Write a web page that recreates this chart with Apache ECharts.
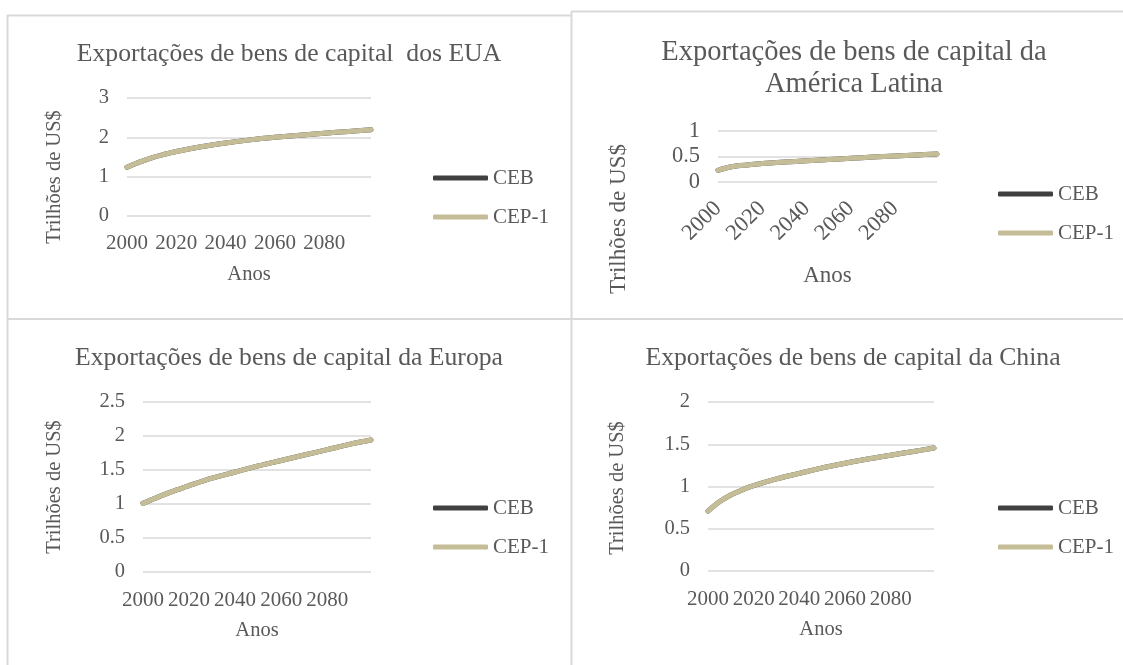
<!DOCTYPE html>
<html>
<head>
<meta charset="utf-8">
<script src="https://cdn.jsdelivr.net/npm/echarts@6/dist/echarts.min.js"></script>
<style>
html,body{margin:0;padding:0;background:#fff;}
#chart{width:1123px;height:665px;}
</style>
</head>
<body>
<div id="chart"></div>
<script>
// ---- data ----
const years = [2000, 2005, 2010, 2015, 2020, 2030, 2040, 2050, 2060, 2070, 2080, 2090, 2099];
const xTickLabels = ['2000', '2020', '2040', '2060', '2080'];
const seriesNames = ['CEB', 'CEP-1'];
const titles = [
  'Exportações de bens de capital  dos EUA',
  'Exportações de bens de capital da\nAmérica Latina',
  'Exportações de bens de capital da Europa',
  'Exportações de bens de capital da China'
];
const yTitle = 'Trilhões de US$';
const xTitle = 'Anos';

const euaCEB   = [1.24, 1.37, 1.48, 1.565, 1.64, 1.76, 1.855, 1.935, 2.0, 2.055, 2.105, 2.15, 2.19];
const euaCEP1  = [1.24, 1.37, 1.48, 1.565, 1.64, 1.76, 1.855, 1.935, 2.0, 2.055, 2.105, 2.15, 2.19];
const latCEB   = [0.23, 0.29, 0.322, 0.345, 0.363, 0.39, 0.415, 0.44, 0.465, 0.488, 0.51, 0.53, 0.548];
const latCEP1  = [0.23, 0.29, 0.322, 0.345, 0.363, 0.39, 0.415, 0.44, 0.465, 0.488, 0.51, 0.53, 0.548];
const eurCEB   = [1.01, 1.08, 1.15, 1.21, 1.27, 1.38, 1.47, 1.56, 1.64, 1.72, 1.80, 1.88, 1.94];
const eurCEP1  = [1.01, 1.08, 1.15, 1.21, 1.27, 1.38, 1.47, 1.56, 1.64, 1.72, 1.80, 1.88, 1.94];
const chnCEB   = [0.71, 0.82, 0.90, 0.96, 1.01, 1.09, 1.155, 1.22, 1.275, 1.325, 1.37, 1.415, 1.455];
const chnCEP1  = [0.71, 0.82, 0.90, 0.96, 1.01, 1.09, 1.155, 1.22, 1.275, 1.325, 1.37, 1.415, 1.455];

const yMax = [3, 1, 2.5, 2];
const yStep = [1, 0.5, 0.5, 0.5];

// ---- layout / style ----
const FONT = '"Liberation Serif", "Times New Roman", serif';
const TXT = '#595959';
const GRID = '#d9d9d9';
const C_CEB = '#404040';
const C_CEP = '#C4BD97';

const grids = [
  {left: 127, top: 98, width: 244, height: 118},
  {left: 718, top: 131, width: 219, height: 51},
  {left: 143, top: 402, width: 228, height: 170},
  {left: 708, top: 402, width: 226, height: 169}
];
const titlePos = [
  {x: 289, y: 54, size: 25.7},
  {x: 854, y: 53, size: 28.5},
  {x: 289, y: 358, size: 25.7},
  {x: 853, y: 358, size: 25.7}
];
const axisFont = [20.5, 23, 20.5, 20.5];
const tickFont = [21, 22.5, 21, 21];
const yTickFont = [20.5, 22.5, 20.5, 20.5];
const yTitlePos = [{x: 55, y: 177}, {x: 619, y: 219}, {x: 55, y: 487}, {x: 618, y: 488}];
const legendPos = [{left: 428, top: 162}, {left: 993, top: 178}, {left: 428, top: 492}, {left: 993, top: 492}];
const nameGaps = [48, 82, 48, 48];
const labelMargin = [17, 23, 18, 18];

const pairs = v => years.map((y, i) => [y, v[i]]);
const dataSets = [[euaCEB, euaCEP1], [latCEB, latCEP1], [eurCEB, eurCEP1], [chnCEB, chnCEP1]];

const xAxes = [], yAxes = [], series = [], legends = [], graphics = [];
for (let k = 0; k < 4; k++) {
  xAxes.push({
    type: 'value', gridIndex: k, min: 2000, max: 2099, interval: 20,
    axisLine: {show: false}, axisTick: {show: false}, splitLine: {show: false},
    axisLabel: {
      color: TXT, fontFamily: FONT, fontSize: tickFont[k], showMaxLabel: false,
      margin: labelMargin[k], rotate: k === 1 ? 45 : 0,
      formatter: v => xTickLabels.indexOf(String(v)) >= 0 ? String(v) : ''
    },
    name: xTitle, nameLocation: 'middle', nameGap: nameGaps[k],
    nameTextStyle: {color: TXT, fontFamily: FONT, fontSize: axisFont[k]}
  });
  yAxes.push({
    type: 'value', gridIndex: k, min: 0, max: yMax[k], interval: yStep[k],
    axisLine: {show: false}, axisTick: {show: false},
    splitLine: {show: true, lineStyle: {color: GRID, width: 1.5}},
    axisLabel: {color: TXT, fontFamily: FONT, fontSize: yTickFont[k], margin: 18}
  });
  const cols = [C_CEB, C_CEP];
  for (let s = 0; s < 2; s++) {
    series.push({
      type: 'line', name: seriesNames[s], xAxisIndex: k, yAxisIndex: k,
      data: pairs(dataSets[k][s]), smooth: 0.35, showSymbol: false, symbol: 'none',
      color: cols[s],
      lineStyle: {color: cols[s], width: 5, cap: 'round', join: 'round'},
      z: 2 + s
    });
  }
  legends.push({
    data: seriesNames, orient: 'vertical', left: legendPos[k].left, top: legendPos[k].top,
    icon: 'roundRect', itemWidth: 55, itemHeight: 5, itemGap: 17,
    textStyle: {color: TXT, fontFamily: FONT, fontSize: 21, lineHeight: 22}
  });
  graphics.push({
    type: 'text', x: titlePos[k].x, y: k === 1 ? titlePos[k].y - 16 : titlePos[k].y, z: 10,
    style: {text: titles[k], fill: TXT, font: titlePos[k].size + 'px ' + FONT,
            align: 'center', verticalAlign: k === 1 ? 'top' : 'middle', lineHeight: 32}
  });
  graphics.push({
    type: 'text', x: yTitlePos[k].x, y: yTitlePos[k].y, rotation: Math.PI / 2, z: 10,
    style: {text: yTitle, fill: TXT, font: axisFont[k] + 'px ' + FONT, align: 'center', verticalAlign: 'middle'}
  });
}
// panel borders
const border = {stroke: GRID, lineWidth: 2};
const segs = [
  [7, 15.5, 572, 15.5], [571.5, 11.5, 1123, 11.5], [7.5, 15, 7.5, 665],
  [571.5, 11, 571.5, 665], [7, 319, 1123, 319]
];
segs.forEach(s => graphics.push({type: 'line', shape: {x1: s[0], y1: s[1], x2: s[2], y2: s[3]}, style: border, z: 0}));

const chart = echarts.init(document.getElementById('chart'));
chart.setOption({
  animation: false,
  backgroundColor: '#fff',
  grid: grids.map(g => Object.assign({containLabel: false}, g)),
  xAxis: xAxes, yAxis: yAxes, series: series, legend: legends,
  graphic: graphics
});
</script>
</body>
</html>
